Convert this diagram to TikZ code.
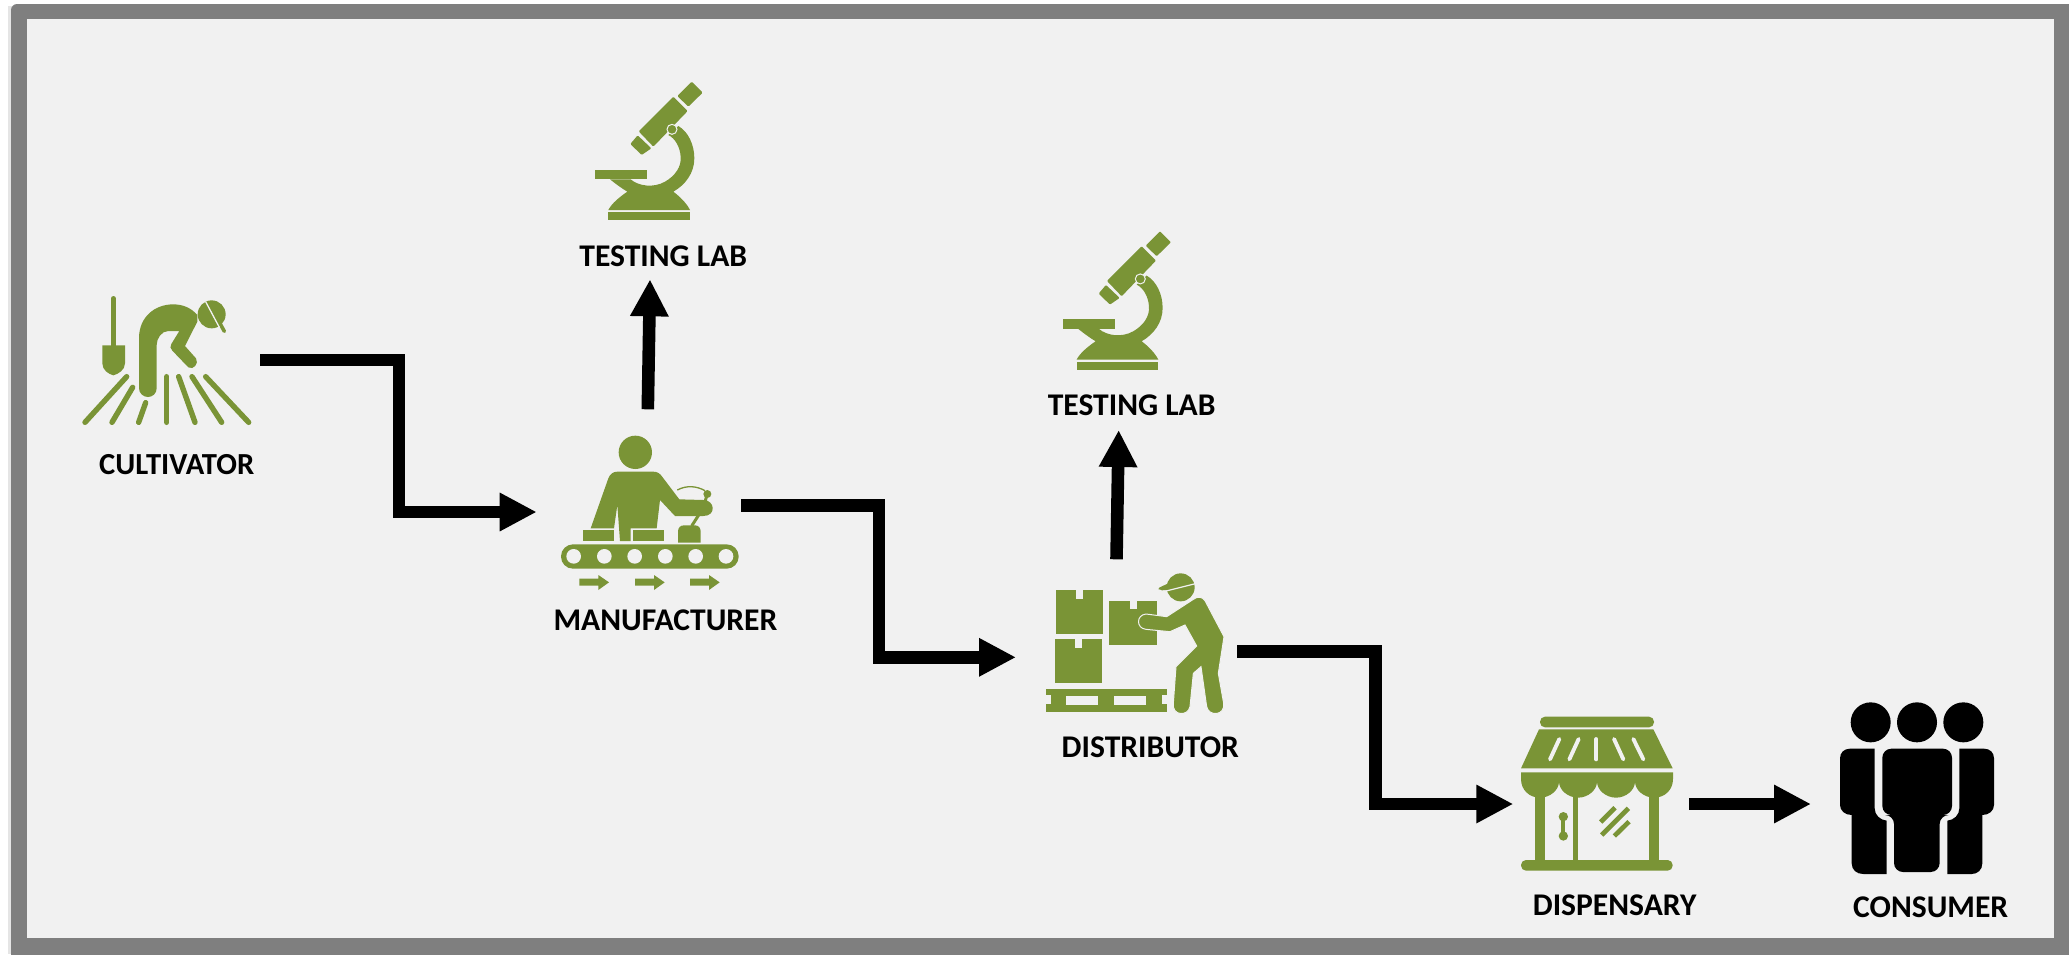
\documentclass[tikz,border=0pt]{standalone}
\usepackage{fontspec}
\setmainfont{Carlito}
\usetikzlibrary{arrows.meta}
\definecolor{leaf}{HTML}{7A9436}
\definecolor{paper}{HTML}{F1F1F1}
\definecolor{framegray}{HTML}{7F7F7F}
\tikzset{
  zoomunits/.style={x=0.33333pt,y=-0.33333pt},
  iconbox/.style={inner sep=0pt,outer sep=0pt,minimum width=#1},
  flow/.style={draw=black,line width=12.6pt,-{Triangle[length=37pt,width=36pt]}},
  caption/.style={anchor=base,font=\fontsize{31.6}{32}\selectfont\bfseries,text=black,inner sep=0pt},
  leafline/.style={draw=leaf,line cap=round,line width=5.4pt},
  gapline/.style={draw=paper,line cap=round,line width=3.9pt},
}
\newcommand{\microscopeicon}[2]{%
  \begin{scope}[shift={(#1,#2)},zoomunits]
    \fill[leaf,rounded corners=1pt] (455,65) -- (488,98) -- (445,140) -- (412,108) -- cycle;
    \fill[leaf,rounded corners=1pt] (400,110) -- (443,153) -- (340,260) -- (296,214) -- cycle;
    \fill[leaf,rounded corners=1pt] (293,226) -- (334,265) -- (305,285) -- (271,252) -- cycle;
    \fill[leaf] (165,329) rectangle (320,358);
    \fill[leaf] (415,198) .. controls (445,215) and (463,255) .. (463,295)
      .. controls (463,340) and (435,375) .. (400,395)
      .. controls (420,410) and (440,430) .. (450,450) -- (205,450)
      .. controls (215,430) and (240,410) .. (262,395)
      .. controls (245,385) and (225,370) .. (210,358) -- (272,358)
      .. controls (295,378) and (340,385) .. (375,365)
      .. controls (405,348) and (425,320) .. (422,290)
      .. controls (420,260) and (405,235) .. (385,225) -- cycle;
    \fill[leaf] (205,457) rectangle (450,480);
    \filldraw[fill=leaf,draw=paper,line width=1pt] (396,208) circle[radius=15];
  \end{scope}}
\begin{document}
\begin{tikzpicture}[x=1pt,y=-1pt]
\useasboundingbox (0,0) rectangle (2069,954);
\fill[white] (0,0) rectangle (2069,954);
\fill[black!10] (8,6) rectangle (12,954);
\fill[framegray,rounded corners=6pt] (11,970) -- (11,4) -- (2085,4) -- (2085,970) -- cycle;
\fill[paper] (27,19) rectangle (2054,938);

% ---------- invisible boxes of the icons (connector anchors)
\node[iconbox=180pt,minimum height=130pt] (cult) at (170,360) {};
\node[iconbox=204.3pt,minimum height=154pt] (manu) at (638.85,512) {};
\node[iconbox=221.3pt,minimum height=150pt] (dist) at (1126.65,657.3) {};
\node[iconbox=175.7pt,minimum height=170pt] (disp) at (1601.15,804) {};
\node[iconbox=189pt,minimum height=190pt] (cons) at (1905.5,804) {};
\node[iconbox=166.6pt,minimum height=199.3pt] (labA) at (663.3,179.65) {};
\node[iconbox=166.6pt,minimum height=199.3pt] (labB) at (1131.6,329.25) {};

% ---------- captions
\node[caption,font=\fontsize{30.6}{32}\selectfont\bfseries] (capCult) at (176.7,474) {CULTIVATOR};
\node[caption] (capLabA) at (663.3,266) {TESTING LAB};
\node[caption] (capManu) at (665.5,630) {MANUFACTURER};
\node[caption] (capLabB) at (1131.7,415.7) {TESTING LAB};
\node[caption] (capDist) at (1150.3,757.3) {DISTRIBUTOR};
\node[caption] (capDisp) at (1614.7,915) {DISPENSARY};
\node[caption] (capCons) at (1930.7,917.7) {CONSUMER};

% ---------- connectors
\draw[flow] (cult.east) -- ++(138.8,0) |- (manu.west);
\draw[flow] ([yshift=6.5pt]manu.east) -- ++(137.8,0) |- (dist.west);
\draw[flow] ([yshift=5.8pt]dist.east) -- ++(138.2,0) |- (disp.west);
\draw[flow] (disp.east) -- (cons.west);
\draw[flow] ([shift={(8.95pt,25.7pt)}]manu.north) -- ([xshift=-13.3pt]labA.south);
\draw[flow] ([shift={(-10.15pt,23pt)}]dist.north) -- ([shift={(-12.9pt,-1.1pt)}]labB.south);

% ---------- cultivator icon
\begin{scope}[shift={(60,270)},zoomunits]
  \draw[leafline,line width=4.6pt] (160,85) -- (160,230);
  \fill[leaf] (127,226) -- (195,226) -- (195,280)
     .. controls (195,300) and (175,312) .. (160,316)
     .. controls (145,312) and (127,300) .. (127,280) -- cycle;
  \fill[leaf] (237,355) -- (237,205) .. controls (237,140) and (285,103) .. (340,103)
     .. controls (370,103) and (395,115) .. (412,135) -- (412,155) -- (375,228) -- (408,265)
     .. controls (418,280) and (400,302) .. (385,292) -- (337,242)
     .. controls (330,235) and (330,230) .. (334,222) -- (358,183) -- (325,183)
     .. controls (305,183) and (290,205) .. (290,225) -- (290,355)
     .. controls (290,370) and (278,381) .. (264,381)
     .. controls (250,381) and (237,370) .. (237,355) -- cycle;
  \fill[leaf] (455,133) circle[radius=42];
  \draw[leafline,line width=3.6pt] (466,135) -- (493,184);
  \draw[draw=paper,line width=1.3pt] (437,95) -- (478,172);
  \draw[leafline] (200,320) -- (75,457);
  \draw[leafline] (156,457) -- (218,352);
  \draw[leafline] (236,457) -- (257,398);
  \draw[leafline] (320,320) -- (320,457);
  \draw[leafline] (356,320) -- (405,457);
  \draw[leafline] (396,320) -- (485,457);
  \draw[leafline] (437,320) -- (566,457);
\end{scope}

% ---------- microscopes
\microscopeicon{540}{60}
\microscopeicon{1008.3}{209.6}

% ---------- manufacturer icon
\begin{scope}[shift={(540,420)},zoomunits]
  \fill[leaf] (286,97) circle[radius=50];
  \fill[leaf] (152,325) -- (205,175) .. controls (210,162) and (220,155) .. (232,155) -- (340,155)
     .. controls (352,155) and (360,160) .. (368,172) -- (418,238) -- (490,240)
     .. controls (525,240) and (530,288) .. (490,288) -- (405,288) -- (360,240) -- (350,325)
     -- (272,325) -- (272,363) -- (240,363) -- (232,255) -- (222,325) -- cycle;
  \fill[leaf] (128,329) rectangle (222,364);
  \fill[leaf] (278,329) rectangle (372,364);
  \fill[leaf] (414,368) -- (414,335) .. controls (414,322) and (422,316) .. (432,316) -- (465,316)
     .. controls (476,316) and (482,324) .. (482,335) -- (482,368) -- cycle;
  \draw[leaf,line width=3pt] (455,318) -- (478,282);
  \draw[leaf,line width=3pt] (495,245) -- (502,222);
  \fill[leaf] (502,222) circle[radius=12];
  \draw[leaf,line width=1.3pt] (412,210) .. controls (440,195) and (470,198) .. (495,212);
  \fill[leaf,rounded corners=12pt] (63,373) rectangle (596,446);
  \foreach \hx in {101,193,284,376,467,558} \fill[paper] (\hx,409) circle[radius=22];
  \foreach \ax in {118,285,450}
    \fill[leaf] (\ax,476) -- ++(57,0) -- ++(0,-11) -- ++(32,22) -- ++(-32,23) -- ++(0,-13) -- ++(-57,0) -- cycle;
\end{scope}

% ---------- distributor icon
\begin{scope}[shift={(1020,560)},zoomunits]
  \fill[leaf] (107,90) rectangle (248,222);
  \fill[paper] (168,88) rectangle (188,116);
  \fill[leaf] (106,238) rectangle (247,370);
  \fill[paper] (166,236) rectangle (186,264);
  \fill[leaf] (268,123) rectangle (410,254);
  \fill[paper] (330,121) rectangle (350,148);
  \fill[leaf] (77,386) rectangle (440,457);
  \fill[paper] (75,405) rectangle (92,432);
  \fill[paper] (425,405) rectangle (442,432);
  \fill[paper] (137,409) rectangle (235,434);
  \fill[paper] (282,409) rectangle (378,434);
  \fill[leaf] (482,82) circle[radius=42];
  \fill[leaf,rounded corners=2pt] (413,85) -- (445,70) -- (450,90) -- (420,91) -- cycle;
  \draw[paper,line width=1.2pt] (438,93) -- (526,71);
  \filldraw[fill=leaf,draw=paper,line width=1pt]
     (378,162) -- (440,170) -- (520,118) .. controls (532,108) and (548,110) .. (555,122)
     -- (612,230) -- (595,340) -- (611,430) .. controls (616,468) and (566,470) .. (560,440)
     -- (543,320) -- (520,340) -- (510,440) .. controls (504,470) and (455,468) .. (460,430)
     -- (468,320) -- (530,258) -- (495,195) -- (450,215) -- (378,208)
     .. controls (348,205) and (348,165) .. (378,162) -- cycle;
\end{scope}

% ---------- dispensary icon
\begin{scope}[shift={(1500,700)},zoomunits]
  \fill[leaf,rounded corners=5pt] (120,50) rectangle (462,82);
  \fill[leaf] (117,88) -- (460,88) -- (518,205) -- (63,205) -- cycle;
  \draw[gapline] (178,117) -- (150,178);
  \draw[gapline] (236,117) -- (208,178);
  \draw[gapline] (289,117) -- (289,178);
  \draw[gapline] (342,117) -- (370,178);
  \draw[gapline] (400,117) -- (430,178);
  \fill[leaf] (63,217) -- (63,237)
     .. controls (63,270) and (88,293) .. (120,293) .. controls (150,293) and (177,270) .. (177,245)
     .. controls (177,270) and (204,293) .. (234,293) .. controls (264,293) and (291,270) .. (291,245)
     .. controls (291,270) and (318,293) .. (348,293) .. controls (378,293) and (405,270) .. (405,245)
     .. controls (405,270) and (432,293) .. (462,293) .. controls (494,293) and (519,270) .. (519,237)
     -- (519,217) -- cycle;
  \fill[leaf] (104,285) rectangle (135,482);
  \fill[leaf] (219,285) rectangle (234,482);
  \fill[leaf] (446,285) rectangle (477,482);
  \fill[leaf,rounded corners=5pt] (63,480) rectangle (518,512);
  \fill[leaf] (190,350) circle[radius=14];
  \fill[leaf] (190,408) circle[radius=14];
  \draw[leaf,line width=4pt] (190,350) -- (190,408);
  \draw[leaf,line width=4.7pt] (302,366) -- (345,323);
  \draw[leaf,line width=4.7pt] (305,405) -- (385,325);
  \draw[leaf,line width=4.7pt] (343,408) -- (387,365);
\end{scope}

% ---------- consumer icon
\begin{scope}[shift={(1800,690)},zoomunits]
  \fill[black] (212,97) circle[radius=60];
  \fill[black] (351,97) circle[radius=60];
  \fill[black] (490,97) circle[radius=60];
  \fill[black,rounded corners=9pt] (247,176) -- (456,176) -- (456,375) -- (419,375) -- (419,546)
     -- (282,546) -- (282,375) -- (247,375) -- cycle;
  \fill[black] (224,176) -- (150,176) .. controls (132,176) and (120,188) .. (120,205)
     -- (120,345) .. controls (120,362) and (135,375) .. (155,375) -- (155,520)
     .. controls (155,540) and (170,552) .. (190,552) -- (260,552) -- (260,392)
     .. controls (240,390) and (224,375) .. (224,355) -- cycle;
  \fill[black] (478,176) -- (552,176) .. controls (570,176) and (582,188) .. (582,205)
     -- (582,345) .. controls (582,362) and (567,375) .. (547,375) -- (547,520)
     .. controls (547,540) and (532,552) .. (515,552) -- (442,552) -- (442,392)
     .. controls (462,390) and (478,375) .. (478,355) -- cycle;
\end{scope}
\end{tikzpicture}
\end{document}
